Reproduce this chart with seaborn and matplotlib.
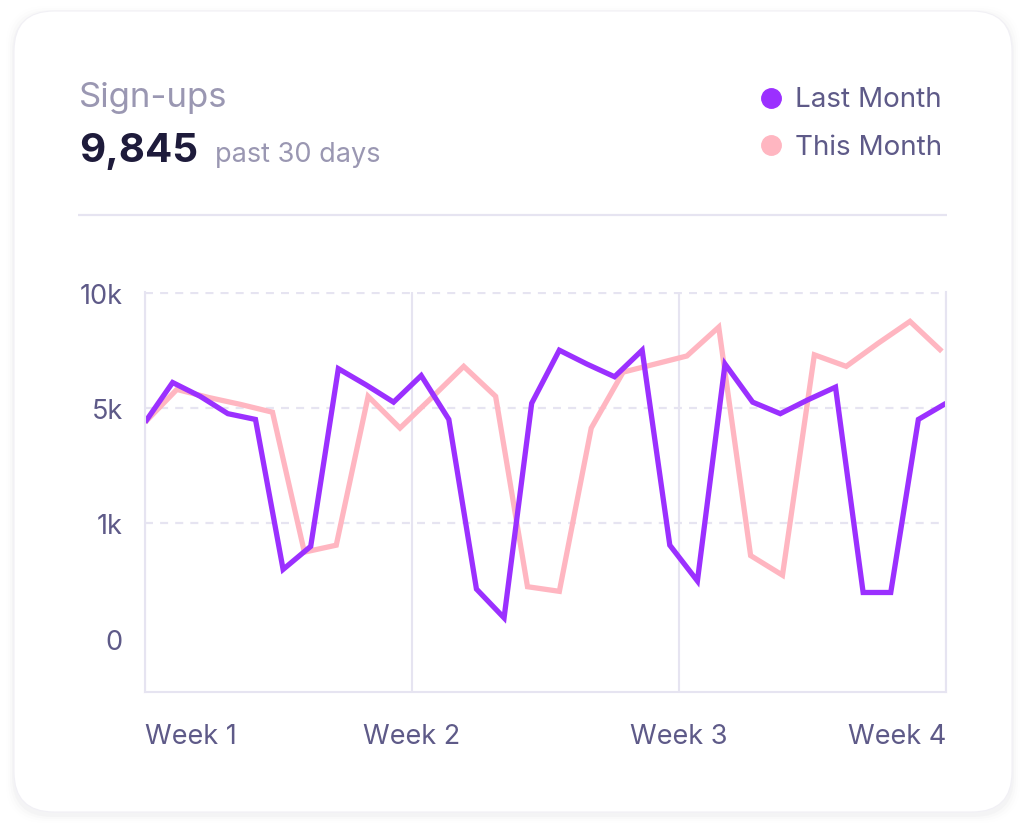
"""
Sign-ups card: last month vs this month, daily values over 30 days
"""

import numpy as np
import pandas as pd
import matplotlib
matplotlib.use("Agg")
import matplotlib.pyplot as plt
from matplotlib.patches import FancyBboxPatch
from matplotlib.lines import Line2D
import seaborn as sns

# --- data ------------------------------------------------------------------
last_month = [4500, 6100, 5500, 4800, 4600, 600, 800, 6700, 6000, 5250,
              6400, 4600, 430, 180, 5200, 7500, 6900, 6350, 7500, 810,
              500, 6900, 5250, 4800, 5350, 5900, 400, 400, 4600, 5200]
this_month = [4500, 5800, 5450, 5150, 4850, 750, 810, 5500, 4300, 5450,
              6800, 5500, 450, 410, 4300, 6550, 6900, 7250, 8500, 720,
              550, 7300, 6800, 7800, 8750, 7450]
# this month's points are spaced a bit wider than one day on the shared axis
this_month_step = 1.154

week_labels = ["Week 1", "Week 2", "Week 3", "Week 4"]
ytick_values = [0, 1000, 5000, 10000]
ytick_labels = ["0", "1k", "5k", "10k"]

PURPLE = "#9B30FF"
PINK = "#FFB6C1"
TICK_COLOR = "#5E5A88"
MUTED = "#9A97B2"
DARK = "#1E1B3B"
GRID = "#E6E4F1"

# piecewise linear y scale: 0, 1k, 5k, 10k are evenly spaced
SCALE_VALS = np.array([0, 1000, 5000, 10000], dtype=float)
SCALE_POS = np.array([0, 1, 2, 3], dtype=float)


def forward(v):
    v = np.asarray(v, dtype=float)
    out = np.interp(v, SCALE_VALS, SCALE_POS)
    out = np.where(v < 0, v / 1000.0, out)
    out = np.where(v > 10000, 3 + (v - 10000) / 5000.0, out)
    return out


def inverse(p):
    p = np.asarray(p, dtype=float)
    out = np.interp(p, SCALE_POS, SCALE_VALS)
    out = np.where(p < 0, p * 1000.0, out)
    out = np.where(p > 3, 10000 + (p - 3) * 5000.0, out)
    return out


df = pd.concat([
    pd.DataFrame({"day": np.arange(len(last_month)), "signups": last_month,
                  "series": "Last Month"}),
    pd.DataFrame({"day": np.arange(len(this_month)) * this_month_step,
                  "signups": this_month, "series": "This Month"}),
], ignore_index=True)

sns.set_theme(style="white")
plt.rcParams["font.family"] = ["Inter", "DejaVu Sans"]

W, H = 1024, 828
fig = plt.figure(figsize=(W / 100, H / 100), dpi=100)
fig.patch.set_facecolor("white")

# background axes in pixel coordinates for the card and header texts
bg = fig.add_axes([0, 0, 1, 1], zorder=0)
bg.set_xlim(0, W)
bg.set_ylim(H, 0)
bg.axis("off")

card = dict(boxstyle="round,pad=0,rounding_size=40")
for i, a in enumerate([0.035, 0.025, 0.015, 0.008]):
    g = 2 + i * 2
    bg.add_patch(FancyBboxPatch((14 - g, 12 - g + 3), 998 + 2 * g, 801 + 2 * g,
                                facecolor="#8080a0", edgecolor="none",
                                alpha=a, **card))
bg.add_patch(FancyBboxPatch((14, 12), 998, 801, facecolor="white",
                            edgecolor="#F1F0F5", linewidth=0.8, **card))

bg.text(79, 107, "Sign-ups", fontsize=25, color=MUTED, va="baseline")
bg.text(79, 162, "9,845", fontsize=29, fontweight="bold", color=DARK,
        va="baseline")
bg.text(215, 162, "past 30 days", fontsize=19.5, color=MUTED, va="baseline")

# legend
bg.add_line(Line2D([770.5], [98.5], marker="o", markersize=14,
                   color=PURPLE, linestyle="none"))
bg.add_line(Line2D([770.5], [146], marker="o", markersize=14,
                   color=PINK, linestyle="none"))
bg.text(942, 107, "Last Month", fontsize=20, color=TICK_COLOR,
        ha="right", va="baseline")
bg.text(942, 155, "This Month", fontsize=20, color=TICK_COLOR,
        ha="right", va="baseline")

# divider
bg.plot([78, 947], [216, 216], color=GRID, linewidth=1.6,
        solid_capstyle="butt")

# --- chart ------------------------------------------------------------------
left, right, top, bottom = 145, 946, 293.3, 692.7
ax = fig.add_axes([left / W, 1 - bottom / H, (right - left) / W,
                   (bottom - top) / H], zorder=1)
ax.patch.set_alpha(0)

ax.set_yscale("function", functions=(forward, inverse))

sns.lineplot(data=df, x="day", y="signups", hue="series",
             hue_order=["This Month", "Last Month"],
             palette={"Last Month": PURPLE, "This Month": PINK},
             linewidth=3.8, estimator=None, sort=False, legend=False,
             solid_joinstyle="miter", solid_capstyle="butt", ax=ax)

ax.set_xlim(0, len(last_month) - 1)
ax.set_ylim(-460, 10010)

ax.set_xticks(np.linspace(0, len(last_month) - 1, len(week_labels)))
ax.set_xticklabels(week_labels)
ax.set_yticks(ytick_values)
ax.set_yticklabels(ytick_labels)
ax.set_xlabel("")
ax.set_ylabel("")

xl = ax.get_xticklabels()
xl[0].set_ha("left")
xl[-1].set_ha("right")

ax.tick_params(axis="x", length=0, pad=22.5, labelsize=19.5,
               labelcolor=TICK_COLOR)
ax.tick_params(axis="y", length=3, width=1.4, color=GRID, pad=13,
               labelsize=19.5, labelcolor=TICK_COLOR)
ax.yaxis.get_major_ticks()[0].tick1line.set_visible(False)

ax.grid(axis="x", color=GRID, linewidth=1.5, linestyle="-")
ax.grid(axis="y", color=GRID, linewidth=1.6, linestyle=(0, (3.6, 3.2)))
ax.get_ygridlines()[0].set_visible(False)
ax.set_axisbelow(True)

for side in ["left", "bottom", "right"]:
    ax.spines[side].set_color(GRID)
    ax.spines[side].set_linewidth(1.5)
ax.spines["top"].set_visible(False)

fig.savefig("out.png", dpi=100, facecolor="white")
